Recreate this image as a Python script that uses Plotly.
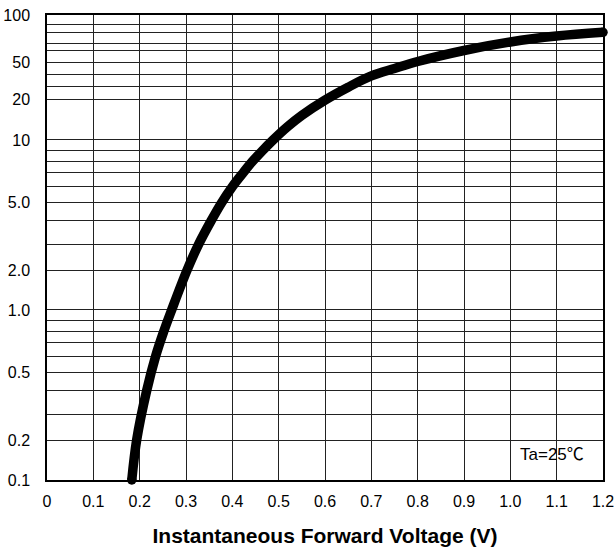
import numpy as np
import plotly.graph_objects as go

# ---- data ----
VOLTAGE = [0.183, 0.1935, 0.215, 0.2345, 0.2517, 0.269, 0.3024, 0.3272, 0.3541, 0.3769,
           0.4011, 0.4237, 0.4429, 0.4649, 0.4879, 0.52, 0.55, 0.60, 0.65, 0.70,
           0.75, 0.80, 0.90, 1.00, 1.10, 1.20]
CURRENT = [0.1, 0.2, 0.4, 0.6, 0.8, 1.0, 2.0, 3.0, 4.0, 5.0,
           6.0, 7.0, 8.0, 9.0, 10.0, 12.6, 15.2, 19.7, 29.8, 38.5,
           44.5, 50.6, 60.6, 71.2, 76.9, 80.8]

X_TICKS = [0.0, 0.1, 0.2, 0.3, 0.4, 0.5, 0.6, 0.7, 0.8, 0.9, 1.0, 1.1, 1.2]
X_TICK_TEXT = ["0", "0.1", "0.2", "0.3", "0.4", "0.5", "0.6", "0.7", "0.8", "0.9", "1.0", "1.1", "1.2"]

Y_LABEL_VALUES = [0.1, 0.2, 0.5, 1.0, 2.0, 5.0, 10.0, 20.0, 50.0, 100.0]
Y_LABEL_TEXT = ["0.1", "0.2", "0.5", "1.0", "2.0", "5.0", "10", "20", "50", "100"]

X_TITLE = "Instantaneous Forward Voltage (V)"
NOTE = "Ta=25℃"

# ---- calibration of the printed (non-uniform) logarithmic grid ----
# fraction of a decade's height at multiples 1..9 of the decade base
LOW_DECADE_FRAC = [0.0, 0.235, 0.386, 0.524, 0.631, 0.729, 0.808, 0.872, 0.937]
TOP_DECADE_FRAC = [0.0, 0.326, 0.424, 0.526, 0.622, 0.712, 0.774, 0.856, 0.922]
DECADE_FRACS = [LOW_DECADE_FRAC, LOW_DECADE_FRAC, TOP_DECADE_FRAC]
DECADE_SPAN = [1.0, 1.0, 0.735]

grid_vals, grid_units = [], []
offset = 0.0
for d, (fr, span) in enumerate(zip(DECADE_FRACS, DECADE_SPAN)):
    base = 0.1 * 10 ** d
    for m, f in enumerate(fr, start=1):
        grid_vals.append(base * m)
        grid_units.append(offset + f * span)
    offset += span
grid_vals.append(100.0)
grid_units.append(offset)
grid_vals = np.array(grid_vals)
grid_units = np.array(grid_units)


def yscale(v):
    return np.interp(np.log10(np.asarray(v, dtype=float)), np.log10(grid_vals), grid_units)


y_tick_text = []
for v in grid_vals:
    match = [t for lv, t in zip(Y_LABEL_VALUES, Y_LABEL_TEXT) if abs(lv - v) < 1e-9 * max(1, v)]
    y_tick_text.append(match[0] if match else "")

FONT = "Liberation Sans, Arial, Noto Sans CJK SC, sans-serif"

fig = go.Figure()
fig.add_trace(go.Scatter(
    x=VOLTAGE, y=yscale(CURRENT), mode="lines",
    line=dict(color="black", width=9.5, shape="spline", smoothing=1.0),
    cliponaxis=False, hoverinfo="skip", showlegend=False,
))
fig.add_trace(go.Scatter(
    x=[VOLTAGE[0], VOLTAGE[-1]], y=yscale([CURRENT[0], CURRENT[-1]]), mode="markers",
    marker=dict(color="black", size=9.5, line=dict(width=0)),
    cliponaxis=False, hoverinfo="skip", showlegend=False,
))

fig.add_annotation(
    x=0.908, y=0.054, xref="paper", yref="paper", text=NOTE, showarrow=False,
    xanchor="center", yanchor="middle", font=dict(family=FONT, size=17, color="black"),
)

fig.update_layout(
    width=614, height=551, autosize=False,
    margin=dict(l=47, r=11, t=15, b=71),
    paper_bgcolor="white", plot_bgcolor="white",
    font=dict(family=FONT, color="black"),
)
fig.update_xaxes(
    range=[0, 1.2], tickmode="array", tickvals=X_TICKS, ticktext=X_TICK_TEXT,
    showgrid=True, gridcolor="#222", gridwidth=1, zeroline=False,
    showline=True, mirror=True, linecolor="black", linewidth=1.5,
    ticks="", ticklabelstandoff=6, ticklabeloverflow="allow",
    tickfont=dict(family=FONT, size=16, color="black"),
    automargin=False,
    title=dict(text="<b>" + X_TITLE + "</b>", font=dict(family=FONT, size=21, color="black"), standoff=19),
)
fig.update_yaxes(
    range=[0, float(grid_units[-1])], tickmode="array", tickvals=grid_units.tolist(), ticktext=y_tick_text,
    showgrid=True, gridcolor="#222", gridwidth=1, zeroline=False,
    showline=True, mirror=True, linecolor="black", linewidth=1.5,
    ticks="", ticklabelstandoff=12, ticklabeloverflow="allow",
    tickfont=dict(family=FONT, size=16, color="black"),
    automargin=False,
)

fig.write_html(
    "out.html",
    config={"displayModeBar": False},
    post_script="document.body.style.margin='0';document.body.style.overflow='hidden';",
)
